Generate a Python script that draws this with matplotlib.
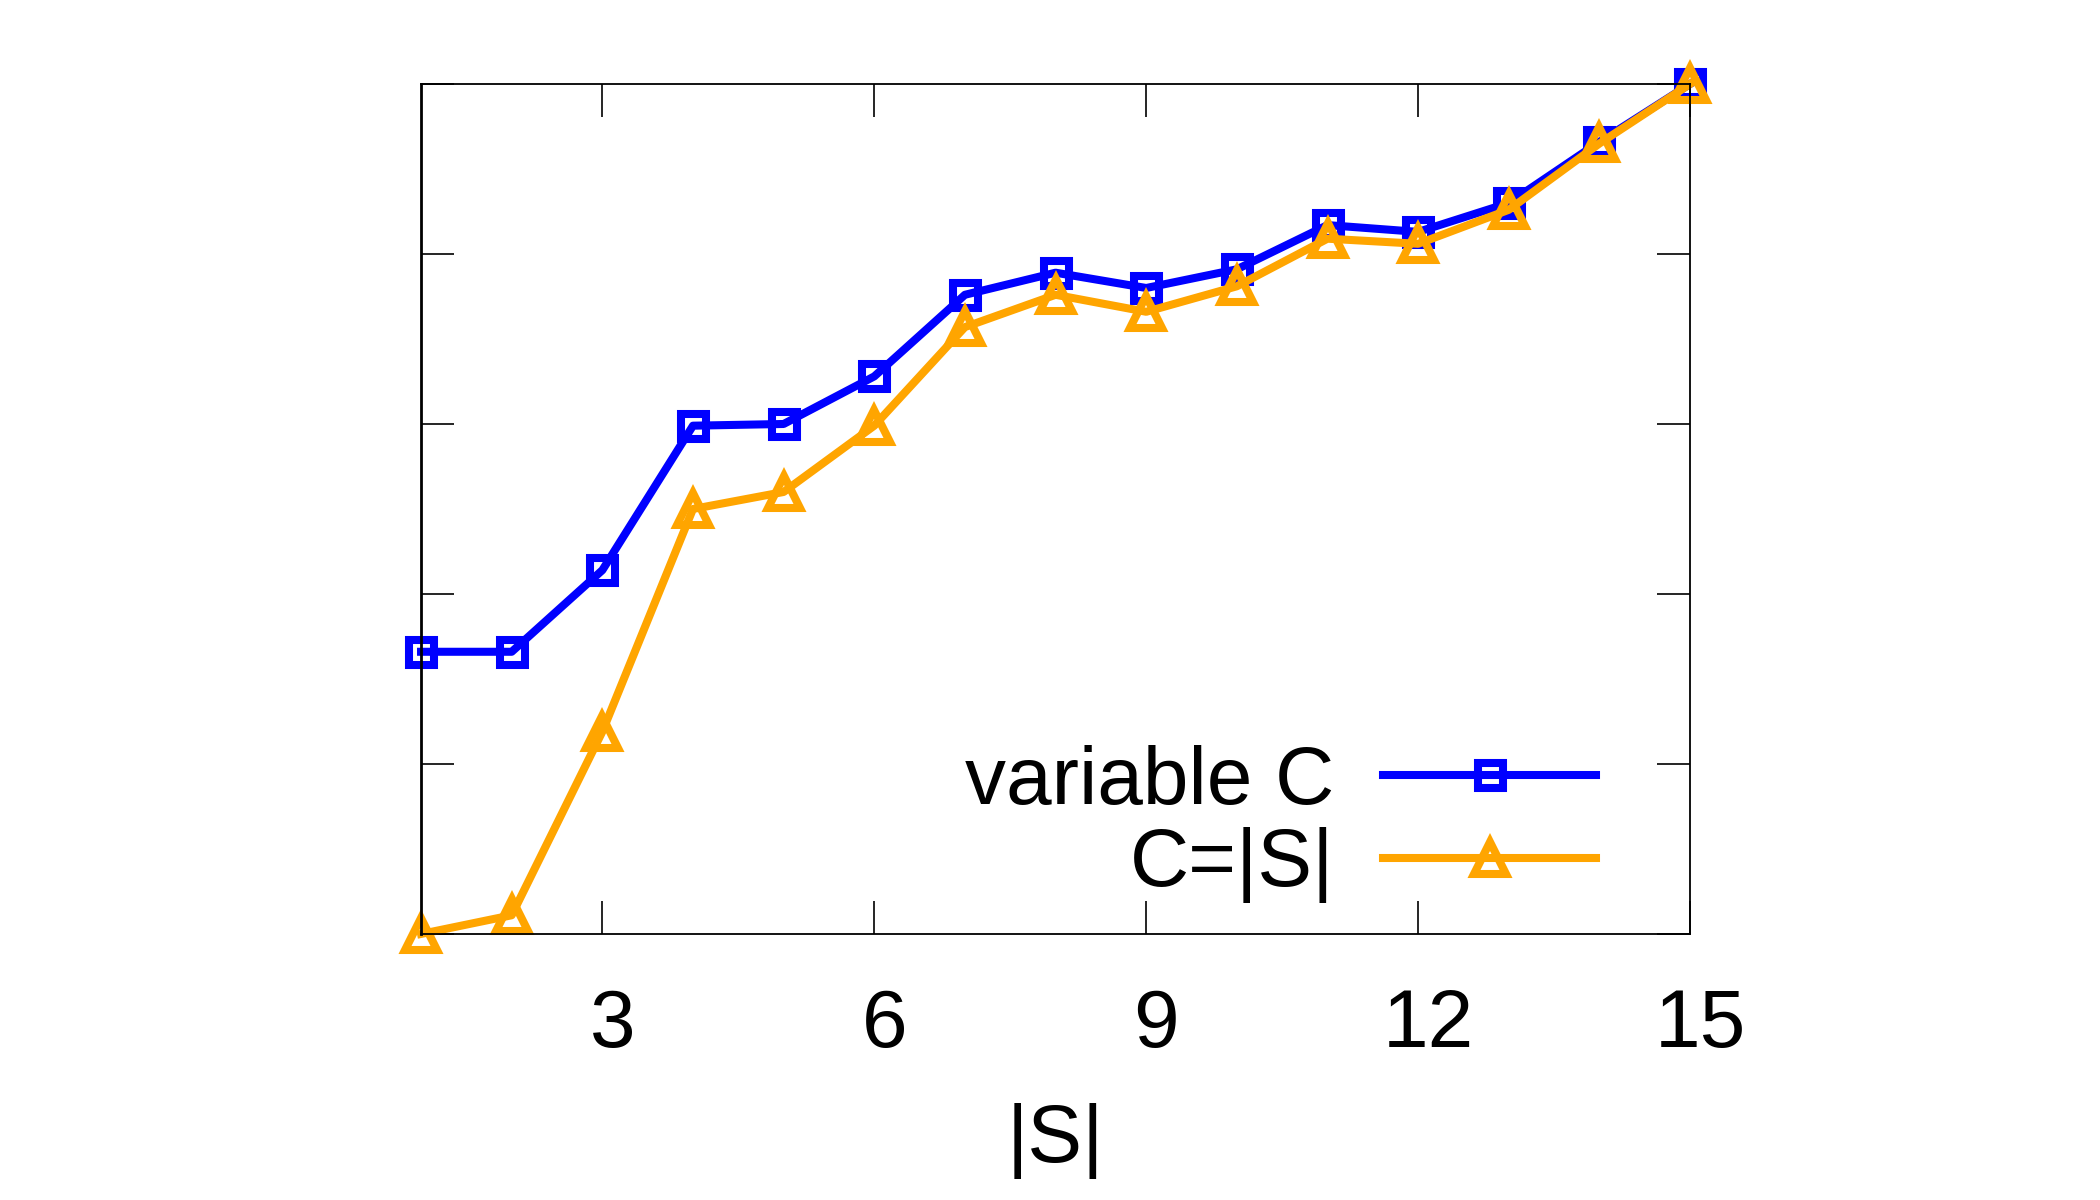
import numpy as np
import matplotlib.pyplot as plt
from matplotlib.transforms import ScaledTranslation

# |S| values and the two series (y axis carries no labels, scale 0..5)
set_size = [1, 2, 3, 4, 5, 6, 7, 8, 9, 10, 11, 12, 13, 14, 15]
variable_c = [1.66, 1.66, 2.14, 2.99, 3.00, 3.28, 3.76, 3.89, 3.80, 3.91, 4.17, 4.13, 4.30, 4.66, 5.00]
fixed_c = [0.00, 0.11, 1.19, 2.50, 2.60, 2.99, 3.57, 3.76, 3.66, 3.81, 4.09, 4.06, 4.26, 4.65, 5.00]
x_ticks = [3, 6, 9, 12, 15]

plt.rcParams['font.family'] = ['Liberation Sans', 'DejaVu Sans']

fig = plt.figure(figsize=(21, 12), dpi=100)
ax = fig.add_axes([0.2005, 0.2217, 0.6043, 0.7083])

ax.plot(set_size, variable_c, color='#0000ff', lw=5.8, marker='s', ms=18,
        mfc='none', mew=5.8, label='variable C', clip_on=False)
ax.plot(set_size, fixed_c, color='#ffa500', lw=5.8, marker='^', ms=23,
        mfc='none', mew=5.8, label='C=|S|', clip_on=False)

ax.set_xlim(1, 15)
ax.set_ylim(0, 5)
ax.set_xticks(x_ticks)
ax.set_yticks([0, 1, 2, 3, 4, 5])
ax.set_yticklabels([])
ax.tick_params(direction='in', length=24, width=1.2, top=True, right=True,
               labelsize=59, pad=39)
for lbl in ax.get_xticklabels():
    lbl.set_transform(lbl.get_transform() + ScaledTranslation(10 / 100, 0, fig.dpi_scale_trans))
for sp in ax.spines.values():
    sp.set_linewidth(1.3)
ax.spines['left'].set_linewidth(2)

ax.set_xlabel('|S|', fontsize=59, labelpad=28)

leg = ax.legend(loc='lower right', bbox_to_anchor=(0.926, 0.036), frameon=False,
                fontsize=59, markerfirst=False, handlelength=2.6, borderpad=0,
                borderaxespad=0, labelspacing=0.08, handletextpad=0.6)
for t in leg.get_texts():
    t.set_ha('right')

fig.savefig('out.png', dpi=100)
